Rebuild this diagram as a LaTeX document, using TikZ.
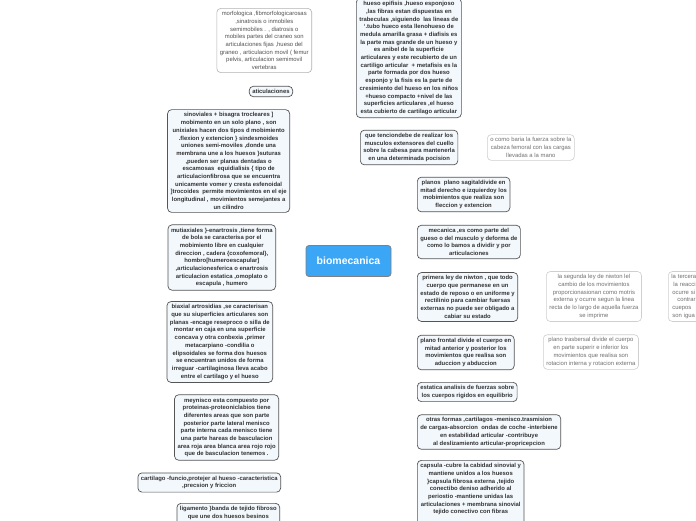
\documentclass[tikz,border=0pt]{standalone}
\usepackage{fontspec}
\setmainfont{Liberation Sans}
\usetikzlibrary{positioning, backgrounds}

\definecolor{rootblue}{HTML}{3AA6F5}
\definecolor{topicfill}{HTML}{F3F8FD}
\definecolor{topicline}{HTML}{555555}
\definecolor{subline}{HTML}{CFCFCF}
\definecolor{linkgray}{HTML}{A8A8A8}
\definecolor{textdark}{HTML}{333333}
\definecolor{textsoft}{HTML}{707070}

\begin{document}
\begin{tikzpicture}[
		x=1pt, y=-1pt,
		font=\fontsize{5.9}{7.7}\selectfont,
		% Central idea
		root/.style={fill=rootblue, draw=gray, line width=0.8pt, rounded corners=3pt,
			text=white, font=\fontsize{10.5}{12}\selectfont\bfseries,
			minimum width=85pt, minimum height=31pt},
		% First level topics
		topic/.style={fill=topicfill, draw=topicline, line width=0.7pt, rounded corners=4pt,
			text=textdark, font=\fontsize{5.9}{7.7}\selectfont\bfseries, align=center, inner sep=3pt},
		% Second level topics
		subtopic/.style={fill=white, draw=subline, line width=0.6pt, rounded corners=4pt,
			text=textsoft, align=center, inner sep=3pt},
		% Connectors
		link/.style={draw=linkgray, line width=0.8pt}
		]
		
		\fill[white] (0,0) rectangle (696,520);
		\useasboundingbox (0,0) rectangle (696,520);
		
		% ==============================================================================
		% CENTRAL IDEA
		% ==============================================================================
		\node[root] (bio) at (348.5, 261) {biomecanica};
		
		% ==============================================================================
		% LEFT BRANCHES
		% ==============================================================================
		\node[subtopic, draw=gray!60, text=textdark!85, anchor=east] (morf) at (312, 40.5) {
			morfologica ,fibmorfologicarosas\\
			,sinatrosis o inmobiles\\
			semimobiles . , diatrosis o\\
			mobiles partes del craneo son\\
			articulaciones fijas ,hueso del\\
			graneo , articulacion movil ( femur\\
			pelvis, articulacion semimovil\\
			vertebras};
		
		\node[topic, anchor=east] (artic) at (293, 91.5) {aticulaciones};
		
		\node[topic, anchor=east] (sinov) at (290, 161) {
			sinoviales + bisagra trocleares ]\\
			mobimento en un solo plano , son\\
			unixiales hacen dos tipos d mobimiento\\
			.flexion y extencion \} sindesmoides\\
			uniones semi-moviles ,donde una\\
			membrana une a los huesos \}suturas\\
			,pueden ser planas dentadas o\\
			escamosas\ \ equidialisis \{ tipo de\\
			articulacionfibrosa que se encuentra\\
			unicamente vomer y cresta esfenoidal\\
			]trocoides\ \ permite movimientos en el eje\\
			longitudinal , movimientos semejantes a\\
			un cilindro};
		
		\node[topic, anchor=east] (multi) at (276, 257.5) {
			mutiaxiales \}-enartrosis ,tiene forma\\
			de bola se caracterisa por el\\
			mobimiento libre en cualquier\\
			direccion , cadera \{coxofemoral\},\\
			hombro[humeroescapular]\\
			,articulacionesferica o enartrosis\\
			articulacion estatica ,omoplato o\\
			escapula , humero};
		
		\node[topic, anchor=east] (biax) at (273, 342) {
			biaxial artrosidias ,se caracterisan\\
			que su siuperficies articulares son\\
			planas -encage reseproco o silla de\\
			montar en caja en una superficie\\
			concava y otra conbexia ,primer\\
			metacarpiano -condilia o\\
			elipsoidales se forma dos huesos\\
			se encuentran unidos de forma\\
			irreguar -cartilaginosa lleva acabo\\
			entre el cartilago y el hueso};
		
		\node[topic, anchor=east] (meny) at (279, 427.5) {
			meynisco esta compuesto por\\
			proteinas-proteoniclabios tiene\\
			diferentes areas que son parte\\
			posterior parte lateral menisco\\
			parte interna cada menisco tiene\\
			una parte hareas de basculacion\\
			area roja area blanca area rojo rojo\\
			que de basculacion tenemos .};
		
		\node[topic, anchor=east] (cart) at (281, 482.5) {
			cartilago -funcio,protejer al hueso -caracteristica\\
			,precsion y friccion};
		
		\node[topic, anchor=north east] (liga) at (280, 503) {
			ligamento \}banda de tejido fibroso\\
			que une dos huesos besinos\\[4pt]\mbox{}};
		
		% ==============================================================================
		% RIGHT BRANCHES
		% ==============================================================================
		\node[topic, anchor=south west] (hueso) at (356, 118) {
			hueso epifisis ,hueso esponjoso\\
			,las fibras estan dispuestas en\\
			trabeculas ,siguiendo\ \ las lineas de\\
			`.tubo hueco esta llenohueso de\\
			medula amarilla grasa + diafisis es\\
			la parte mas grande de un hueso y\\
			es anibel de la superficie\\
			articulares y este recubierto de un\\
			cartiligo articular\ \ + metafisis es la\\
			parte formada por dos hueso\\
			esponjo y la fisis es la parte de\\
			cresimiento del hueso en los niños\\
			+hueso compacto +nivel de las\\
			superficies articulares ,el hueso\\
			esta cubierto de cartilago articular};
		
		\node[topic, anchor=west] (tens) at (360, 147.5) {
			que tenciondebe de realizar los\\
			musculos extensores del cuello\\
			sobre la cabesa para mantenerla\\
			en una determinada pocision};
		\node[subtopic, anchor=west] (fuerza) at (487, 147.5) {
			o como baria la fuerza sobre la\\
			cabeza femoral con las cargas\\
			llevadas a la mano};
		
		\node[topic, anchor=west] (planos) at (417, 194.5) {
			planos\ \ plano sagitaldivide en\\
			mitad derecho e izquierdoy los\\
			mobimientos que realiza son\\
			fleccion y extencion};
		
		\node[topic, anchor=west] (mec) at (417, 242) {
			mecanica ,es como parte del\\
			gueso o del musculo y deforma de\\
			como lo bamos a dividir y por\\
			articulaciones};
		
		\node[topic, anchor=west] (ley1) at (417, 297) {
			primera ley de niwton , que todo\\
			cuerpo que permanese en un\\
			estado de reposo o en uniforme y\\
			rectilinio para cambiar fuersas\\
			externas no puede ser obligado a\\
			cabiar su estado};
		\node[subtopic, anchor=west] (ley2) at (546, 296.5) {
			la segunda ley de niwton lel\\
			cambio de los movimientos\\
			proporcionasionan como motris\\
			externa y ocurre segun la linea\\
			recta de lo largo de aquella fuerza\\
			se imprime};
		\node[subtopic, anchor=west, text width=60pt, align=left] (ley3) at (668, 296.5) {
			la tercera\\
			\hspace*{2pt}la reacci\\
			\hspace*{1pt}ocurre si\\
			\hspace*{6pt}contrar\\
			\hspace*{1pt}cuepos\\
			\hspace*{1pt}son igua};
		
		\node[topic, anchor=west] (front) at (417, 352.5) {
			plano frontal divide el cuerpo en\\
			mitad anterior y posterior los\\
			movimientos que realisa son\\
			aduccion y abduccion};
		\node[subtopic, anchor=west] (trans) at (543, 352) {
			plano trasbersal divide el cuerpo\\
			en parte superir e inferior los\\
			movimientos que realisa son\\
			rotacion interna y rotacion externa};
		
		\node[topic, anchor=west] (estat) at (417, 392) {
			estatica analisis de fuerzas sobre\\
			los cuerpos rigidos en equilibrio};
		
		\node[topic, anchor=west] (otras) at (417, 432) {
			otras formas ,cartilagos -menisco.trasmision\\
			de cargas-absorcion\ \ ondas de coche -interbiene\\
			en estabilidad articular -contribuye\\
			al deslizamiento articular-propricepcion};
		
		\node[topic, anchor=north west] (caps) at (417, 460) {
			capsula -cubre la cabidad sinovial y\\
			mantiene unidos a los huesos\\
			\}capsula fibrosa externa ,tejido\\
			conectibo deniso adherido al\\
			periostio -mantiene unidas las\\
			articulaciones + membrana sinovial\\
			tejido conectivo con fibras\\[6pt]\mbox{}};
		
		% ==============================================================================
		% CONNECTORS
		% ==============================================================================
		\begin{scope}[on background layer]
			% --- left side ---
			\draw[link] (bio.center) to[out=100, in=0] (morf.east);
			\draw[link] (bio.center) to[out=110, in=0] (artic.east);
			\draw[link] (bio.center) to[out=125, in=0] (sinov.east);
			\draw[link] (bio.center) to[out=180, in=0] (multi.east);
			\draw[link] (bio.center) to[out=225, in=0] (biax.east);
			\draw[link] (bio.center) to[out=245, in=0] (meny.east);
			\draw[link] (bio.center) to[out=255, in=0] (cart.east);
			\draw[link] (bio.center) to[out=260, in=0] (liga.east);
			% --- right side ---
			\draw[link] (bio.center) to[out=90, in=180] (hueso.west);
			\draw[link] (bio.center) to[out=85, in=180] (tens.west);
			\draw[link] (bio.center) to[out=65, in=180] (planos.west);
			\draw[link] (bio.center) to[out=20, in=180] (mec.west);
			\draw[link] (bio.center) to[out=-20, in=180] (ley1.west);
			\draw[link] (bio.center) to[out=-55, in=180] (front.west);
			\draw[link] (bio.center) to[out=-65, in=180] (estat.west);
			\draw[link] (bio.center) to[out=-75, in=180] (otras.west);
			\draw[link] (bio.center) to[out=-82, in=180] (caps.west);
			% --- second level ---
			\draw[link] (tens.east) -- (fuerza.west);
			\draw[link] (ley1.east) -- (ley2.west);
			\draw[link] (ley2.east) -- (ley3.west);
			\draw[link] (front.east) -- (trans.west);
		\end{scope}
		
	\end{tikzpicture}
\end{document}
